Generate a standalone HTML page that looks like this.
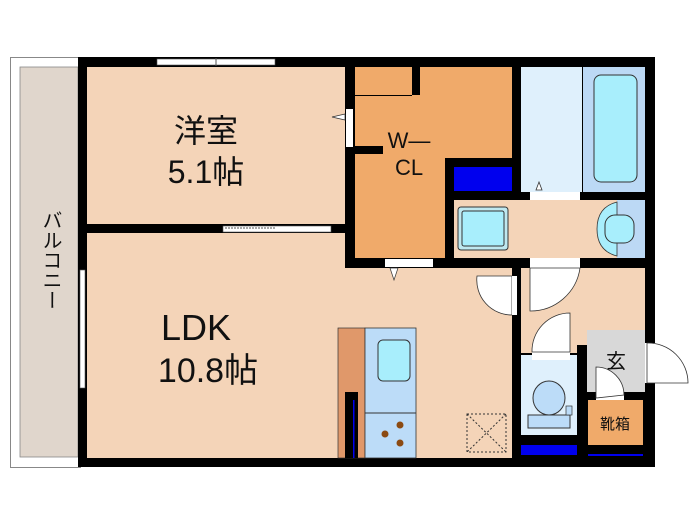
<!DOCTYPE html>
<html><head><meta charset="utf-8"><style>
html,body{margin:0;padding:0;background:#fff;width:700px;height:525px;overflow:hidden}
text{font-family:"Liberation Sans","Noto Sans CJK JP",sans-serif;fill:#111}
</style></head><body>
<svg width="700" height="525" viewBox="0 0 700 525" xmlns="http://www.w3.org/2000/svg">
<rect x="10.5" y="57.5" width="70" height="410" fill="#fff" stroke="#888"/>
<rect x="20" y="67" width="58" height="390" fill="#e0d6cc" stroke="#888" stroke-width="0.8"/>
<rect x="78" y="57" width="577" height="410" fill="#000"/>
<rect x="87" y="67" width="258" height="157" fill="#f4d4b8"/>
<rect x="87" y="233" width="258" height="225" fill="#f4d4b8"/>
<rect x="345" y="268" width="167" height="190" fill="#f4d4b8"/>
<rect x="355" y="67" width="157" height="91" fill="#f0aa6a"/>
<rect x="355" y="158" width="90" height="100" fill="#f0aa6a"/>
<rect x="412" y="67" width="8" height="28" fill="#000"/>
<rect x="355" y="95" width="57" height="1" fill="#000"/>
<rect x="355" y="146" width="28" height="8" fill="#000"/>
<rect x="454" y="167" width="58" height="24" fill="#0000ee"/>
<rect x="521" y="67" width="61" height="125" fill="#dff0fc"/>
<rect x="583" y="67" width="62" height="125" fill="#bcd9f5"/>
<rect x="594" y="75" width="43" height="107" rx="7" fill="#a8eefc" stroke="#333"/>
<rect x="530" y="192" width="50" height="8" fill="#fff"/>
<polygon points="536,190 539,182 542,190" fill="#fff" stroke="#333" stroke-width="0.8"/>
<rect x="454" y="200" width="191" height="58" fill="#f4d4b8"/>
<rect x="617" y="200" width="28" height="58" fill="#bcd9f5"/>
<path d="M617,202 Q597,207 597,229 Q597,251 617,256 Z" fill="#a8eefc" stroke="#333" stroke-width="0.8"/>
<rect x="605" y="215" width="29" height="28" rx="10" fill="#a8eefc" stroke="#333"/>
<rect x="458" y="207" width="50" height="43" rx="3" fill="#bfe8f0" stroke="#333"/>
<rect x="462" y="211" width="42" height="35" rx="2" fill="#a8eefc" stroke="#333"/>
<rect x="530" y="258" width="50" height="10" fill="#fff"/>
<rect x="521" y="268" width="124" height="77" fill="#f4d4b8"/>
<rect x="521" y="268" width="56" height="85" fill="#f4d4b8"/>
<rect x="521" y="355" width="56" height="80" fill="#dff0fc"/>
<rect x="521" y="445" width="56" height="10" fill="#0000ee"/>
<rect x="532" y="352" width="38" height="8" fill="#fff"/>
<path d="M570,352 L570,313 A38,38 0 0 0 532,352 Z" fill="#fff" stroke="#333" stroke-width="0.8"/>
<ellipse cx="549" cy="398" rx="16" ry="17" fill="#bcdcf8" stroke="#333"/>
<rect x="528" y="415" width="42" height="13" fill="#bcdcf8" stroke="#333"/>
<rect x="566" y="406" width="6" height="9" fill="#bcdcf8" stroke="#333" stroke-width="0.7"/>
<path d="M530,268 L580,268 A50,50 0 0 1 530,311 Z" fill="#fff" stroke="#333" stroke-width="0.8"/>
<path d="M512,276 L512,315 A35,35 0 0 1 477,276 Z" fill="#fff" stroke="#333" stroke-width="0.8"/>
<rect x="512" y="276" width="5" height="39" fill="#fff"/>
<rect x="587" y="330" width="58" height="62" fill="#d8d8d8"/>
<rect x="596" y="392" width="28" height="8" fill="#fff"/>
<path d="M596,398 L596,367 A28,28 0 0 1 624,395 Z" fill="#fff" stroke="#333" stroke-width="0.8"/>
<rect x="588" y="400" width="55" height="45" fill="#f0aa6a"/>
<rect x="588" y="454" width="55" height="2" fill="#0000ee"/>
<rect x="645" y="343" width="10" height="40" fill="#fff"/>
<path d="M647,343 A40,40 0 0 1 688,383 L647,383 Z" fill="#fff" stroke="#333" stroke-width="0.8"/>
<rect x="338" y="328" width="27" height="130" fill="#e0986a" stroke="#333" stroke-width="0.7"/>
<rect x="345" y="392" width="13" height="66" fill="#000"/>
<rect x="353" y="400" width="1.5" height="58" fill="#0000ee"/>
<rect x="365" y="328" width="51" height="130" fill="#bcdcf8" stroke="#333" stroke-width="0.8"/>
<line x1="365" y1="413" x2="416" y2="413" stroke="#333"/>
<rect x="378" y="340" width="32" height="41" rx="5" fill="#a8eefc" stroke="#333"/>
<circle cx="400" cy="425" r="3.5" fill="#8b4a12"/>
<circle cx="385" cy="434" r="3.5" fill="#8b4a12"/>
<circle cx="400" cy="443" r="3.5" fill="#8b4a12"/>
<rect x="467" y="414" width="39" height="38" fill="none" stroke="#333" stroke-dasharray="2,2"/>
<line x1="467" y1="414" x2="506" y2="452" stroke="#333" stroke-dasharray="2,2"/>
<line x1="506" y1="414" x2="467" y2="452" stroke="#333" stroke-dasharray="2,2"/>
<rect x="157" y="59" width="118" height="6" fill="#fff" stroke="#555" stroke-width="0.6"/>
<line x1="216" y1="58" x2="216" y2="66" stroke="#555"/>
<rect x="80" y="270" width="5" height="118" fill="#fff" stroke="#555" stroke-width="0.6"/>
<rect x="223" y="226" width="108" height="6" fill="#fff" stroke="#555" stroke-width="0.6"/>
<line x1="225" y1="228" x2="275" y2="228" stroke="#555" stroke-dasharray="2,1"/>
<rect x="346" y="109" width="7" height="38" fill="#fff"/>
<polygon points="345,114 332,117 345,120" fill="#fff" stroke="#333" stroke-width="0.7"/>
<rect x="385" y="259" width="48" height="8" fill="#fff"/>
<polygon points="390,268 394,280 398,268" fill="#fff" stroke="#333" stroke-width="0.7"/>
<text x="206" y="142" font-size="32" text-anchor="middle">洋室</text>
<text x="206" y="183" font-size="32" text-anchor="middle">5.1帖</text>
<text x="196" y="340" font-size="36" text-anchor="middle">LDK</text>
<text x="208" y="382" font-size="34" text-anchor="middle">10.8帖</text>
<text x="409" y="148" font-size="22" text-anchor="middle">W—</text>
<text x="409" y="175" font-size="22" text-anchor="middle">CL</text>
<text x="616" y="368" font-size="20" text-anchor="middle">玄</text>
<text x="615" y="429" font-size="15" text-anchor="middle">靴箱</text>
<text x="50" y="260" font-size="20" text-anchor="middle" style="writing-mode:vertical-rl">バルコニー</text>
</svg>
</body></html>
